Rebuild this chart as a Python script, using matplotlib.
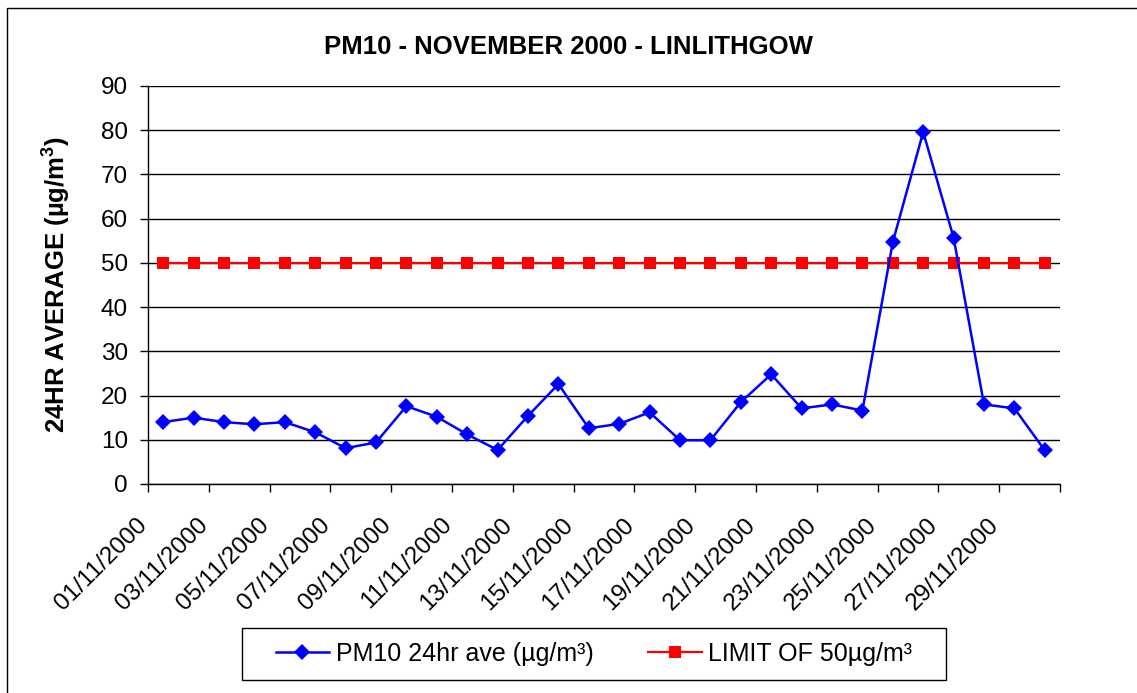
import matplotlib
matplotlib.use("Agg")
import matplotlib.pyplot as plt
import matplotlib.transforms as mtransforms
from matplotlib.patches import Rectangle
from matplotlib.lines import Line2D

plt.rcParams['font.family'] = ['Liberation Sans', 'DejaVu Sans']
plt.rcParams['mathtext.fontset'] = 'custom'
plt.rcParams['mathtext.rm'] = 'Liberation Sans:bold'
plt.rcParams['mathtext.it'] = 'Liberation Sans:bold'
plt.rcParams['mathtext.bf'] = 'Liberation Sans:bold'

# ---- data ----
dates = [f"{d:02d}/11/2000" for d in range(1, 31)]
pm10 = [14.0, 15.0, 14.0, 13.5, 14.0, 11.7, 8.1, 9.4, 17.6, 15.2,
        11.2, 7.7, 15.4, 22.6, 12.6, 13.6, 16.2, 9.9, 9.9, 18.5,
        24.8, 17.1, 18.0, 16.6, 54.7, 79.6, 55.7, 18.0, 17.1, 7.6]
limit = [50] * 30
yticks = [0, 10, 20, 30, 40, 50, 60, 70, 80, 90]
title = "PM10 - NOVEMBER 2000 - LINLITHGOW"
ylabel = "24HR AVERAGE (µg/m$^3$)"
series_labels = ["PM10 24hr ave (µg/m³)", "LIMIT OF 50µg/m³"]

W, H = 1137, 693
fig = plt.figure(figsize=(W / 100, H / 100), dpi=100)
fig.patch.set_facecolor('white')

# outer chart border
fig.patches.append(Rectangle((7 / W, -0.05), 1.2, 1 - 8 / H + 0.05,
                             transform=fig.transFigure, fill=False,
                             edgecolor='black', lw=1.0))

ax = fig.add_axes([148 / W, 1 - 484 / H, 912 / W, 398 / H])
x = list(range(len(dates)))

ax.set_ylim(0, 90)
ax.set_xlim(-0.5, len(dates) - 0.5)
ax.set_yticks(yticks)
ax.yaxis.grid(True, color='black', lw=1.0)
ax.set_axisbelow(True)

ax.plot(x, limit, color='#FF0000', lw=1.6, marker='s', markersize=9.3,
        markeredgewidth=0, zorder=3)
ax.plot(x, pm10, color='#0000FF', lw=1.8, marker='D', markersize=7.8,
        markeredgewidth=0, zorder=4)

for s in ['top', 'right']:
    ax.spines[s].set_visible(False)
for s in ['left', 'bottom']:
    ax.spines[s].set_color('black')
    ax.spines[s].set_linewidth(1.0)

# x ticks: marks at category boundaries every 2, labels every 2 categories
ax.set_xticks([i - 0.5 for i in range(0, len(dates) + 1, 2)])
ax.set_xticklabels([])
ax.set_xticks(x[::2], minor=True)
ax.set_xticklabels(dates[::2], minor=True, rotation=45, ha='right',
                   va='center', rotation_mode='anchor', fontsize=17.5)
ax.tick_params(axis='x', which='major', length=6, width=1, direction='out')
ax.tick_params(axis='x', which='minor', length=0, pad=27)
off = mtransforms.ScaledTranslation(-19 / 100, 0, fig.dpi_scale_trans)
for lab in ax.get_xticklabels(minor=True):
    lab.set_transform(lab.get_transform() + off)

ax.tick_params(axis='y', length=6, width=1, direction='out', pad=8.5,
               labelsize=17.5)

ax.set_ylabel(ylabel, fontsize=18.5, fontweight='bold')
ax.yaxis.set_label_coords(-0.082, 0.5)

fig.text(0.5, 1 - 47 / H, title, ha='center', va='center',
         fontsize=18.5, fontweight='bold')

# legend
handles = [Line2D([], [], color='#0000FF', lw=1.8, marker='D', markersize=7.8,
                  markeredgewidth=0),
           Line2D([], [], color='#FF0000', lw=1.6, marker='s', markersize=9.3,
                  markeredgewidth=0)]
leg = fig.legend(handles, series_labels, loc='center',
                 bbox_to_anchor=(594 / W, 1 - 654 / H), ncol=2, frameon=False,
                 fontsize=18, handlelength=2.15, handletextpad=0.28,
                 columnspacing=2.15)
fig.patches.append(Rectangle((242 / W, 1 - 680 / H), (946 - 242) / W, 52 / H,
                             transform=fig.transFigure, fill=False,
                             edgecolor='black', lw=1.0))

fig.savefig("out.png", dpi=100, facecolor='white')
